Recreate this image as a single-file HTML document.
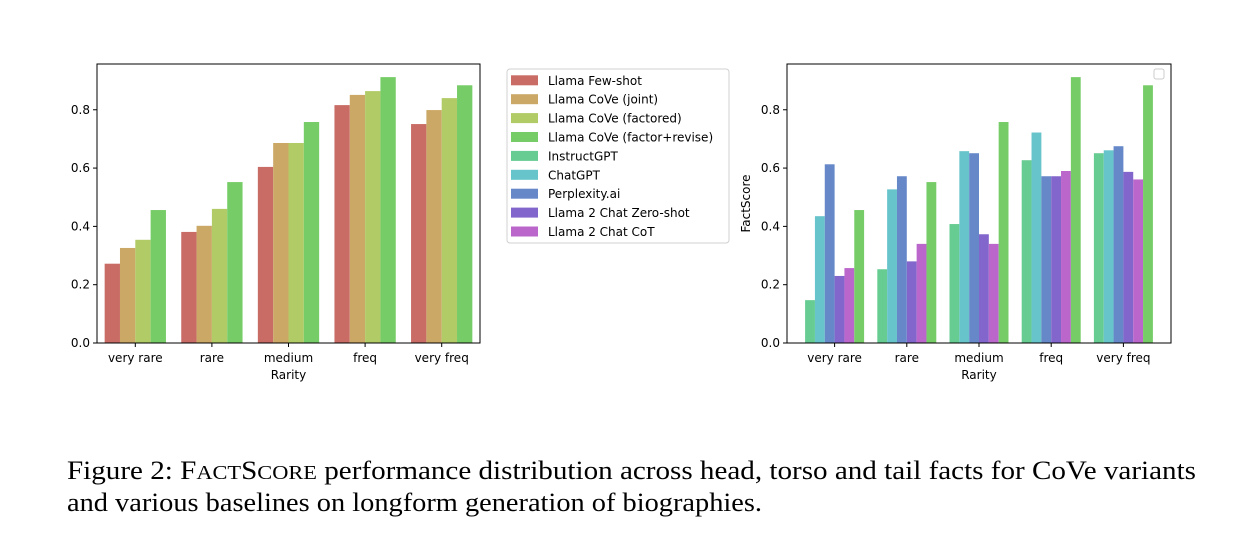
<!DOCTYPE html>
<html><head><meta charset="utf-8"><style>
body{margin:0;background:#fff;width:1235px;height:540px;overflow:hidden}
svg{display:block}
.t{font-family:"DejaVu Sans",sans-serif;font-size:12px;fill:#000}
.cap{font-family:"Liberation Serif",serif;font-size:26px;fill:#000}
</style></head><body>
<svg id="fig" width="1235" height="540">
<g id="left"></g>
<g id="right"></g>
<g id="legend"></g>
<text class="cap" x="67" y="479" textLength="1129" lengthAdjust="spacingAndGlyphs">Figure 2: F<tspan font-size="20">ACT</tspan>S<tspan font-size="20">CORE</tspan> performance distribution across head, torso and tail facts for CoVe variants</text>
<text class="cap" x="67" y="511" textLength="695" lengthAdjust="spacingAndGlyphs">and various baselines on longform generation of biographies.</text>
</svg>
<script>
const categories = ["very rare","rare","medium","freq","very freq"];
const yTicks = [0.0,0.2,0.4,0.6,0.8];
const seriesNames = ["Llama Few-shot","Llama CoVe (joint)","Llama CoVe (factored)","Llama CoVe (factor+revise)","InstructGPT","ChatGPT","Perplexity.ai","Llama 2 Chat Zero-shot","Llama 2 Chat CoT"];
const seriesColors = ["#c96c66","#cba866","#b1cb66","#76cc67","#66cc91","#67c4cb","#6688c9","#8366cb","#bb66cb"];
const fewShot = [0.272,0.381,0.604,0.816,0.751];
const coveJoint = [0.326,0.402,0.686,0.851,0.799];
const coveFactored = [0.354,0.460,0.686,0.864,0.840];
const coveFactorRevise = [0.456,0.552,0.758,0.912,0.884];
const instructGPT = [0.147,0.253,0.408,0.627,0.651];
const chatGPT = [0.435,0.527,0.658,0.722,0.661];
const perplexity = [0.613,0.572,0.651,0.572,0.675];
const zeroShot = [0.230,0.280,0.373,0.572,0.587];
const cot = [0.257,0.340,0.340,0.590,0.561];

const NS="http://www.w3.org/2000/svg";
function mk(parent,tag,attrs){const e=document.createElementNS(NS,tag);for(const k in attrs)e.setAttribute(k,attrs[k]);parent.appendChild(e);return e;}

function chart(g,x0,x1,y0,y1,series,colorIdx,groupW,step,ylabel){
  const ymax=0.957;
  const yS=v=>y1-(v/ymax)*(y1-y0);
  const mid=(x0+x1)/2;
  const xC=i=>mid+step*(i-(categories.length-1)/2);
  const n=series.length, bw=groupW/n;
  series.forEach((s,si)=>{
    s.forEach((v,ci)=>{
      const r=mk(g,'rect',{x:xC(ci)-groupW/2+si*bw,y:yS(v),width:bw,height:y1-yS(v),fill:seriesColors[colorIdx[si]]});
      
      
    });
  });
  const frame=mk(g,'rect',{x:x0,y:y0,width:x1-x0,height:y1-y0,fill:'none',stroke:'#000','stroke-width':1});
  
  
  yTicks.forEach(t=>{
    const y=yS(t);
    mk(g,'line',{x1:x0-4,x2:x0,y1:y,y2:y,stroke:'#000'});
    const tx=mk(g,'text',{x:x0-7,y:y+4,'text-anchor':'end',class:'t'});tx.textContent=t.toFixed(1);
    
    
  });
  categories.forEach((c,i)=>{
    mk(g,'line',{x1:xC(i),x2:xC(i),y1:y1,y2:y1+4,stroke:'#000'});
    const tx=mk(g,'text',{x:xC(i),y:y1+19,'text-anchor':'middle',class:'t'});tx.textContent=c;
    
    
  });
  const xl=mk(g,'text',{x:mid,y:y1+36,'text-anchor':'middle',class:'t'});xl.textContent='Rarity';
  
  
  if(ylabel){
    const yl=mk(g,'text',{x:0,y:0,'text-anchor':'middle',class:'t',transform:`translate(${x0-37},${(y0+y1)/2}) rotate(-90)`});yl.textContent=ylabel;
    
    
  }
}
chart(document.getElementById('left'),97,480,64,343,[fewShot,coveJoint,coveFactored,coveFactorRevise],[0,1,2,3],61.3,76.6,null);
chart(document.getElementById('right'),787,1171,64,343,[instructGPT,chatGPT,perplexity,zeroShot,cot,coveFactorRevise],[4,5,6,7,8,3],59,72.2,'FactScore');
const eb=mk(document.getElementById('right'),'rect',{x:1154,y:69,width:10,height:10,rx:2,fill:'#fff',stroke:'#ccc'});



const lg=document.getElementById('legend');
const lb=mk(lg,'rect',{x:507,y:69,width:222,height:174,rx:3,fill:'#fff',stroke:'#d0d0d0'});


seriesNames.forEach((nm,i)=>{
  const y=80.3+i*18.9;
  const p=mk(lg,'rect',{x:511,y:y-5,width:27,height:10,fill:seriesColors[i]});
  
  
  const t=mk(lg,'text',{x:548,y:y+4.5,class:'t'});t.textContent=nm;
  
  
});
</script>
</body></html>
